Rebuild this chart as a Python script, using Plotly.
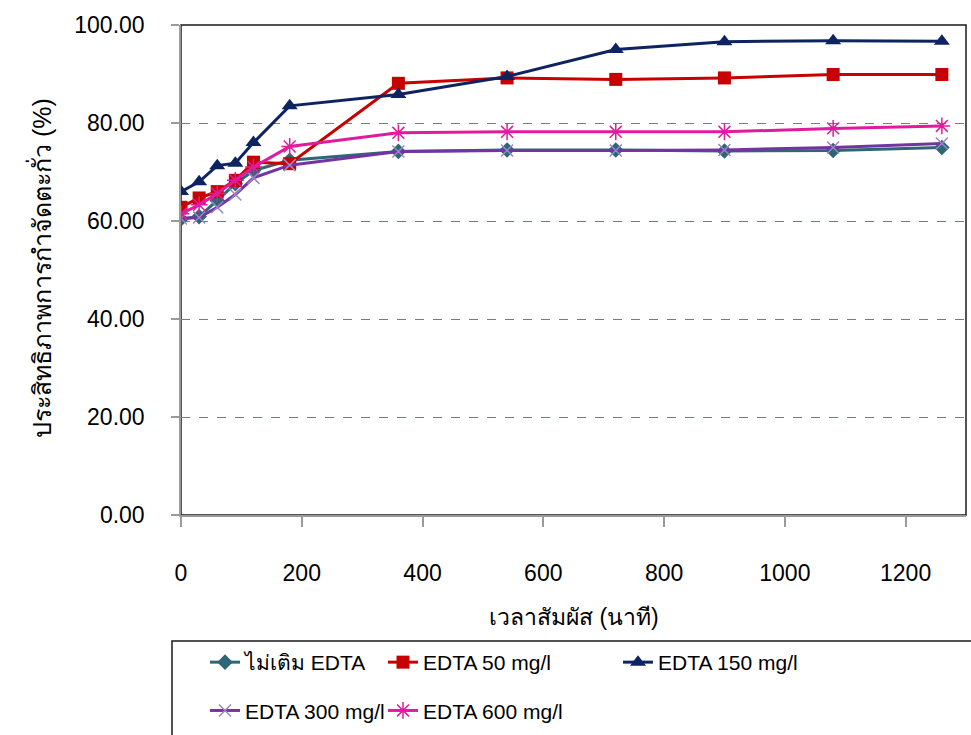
import plotly.graph_objects as go

# Contact time (minutes)
time_min = [0, 30, 60, 90, 120, 180, 360, 540, 720, 900, 1080, 1260]

# Lead removal efficiency (%) per EDTA dose
no_edta = [60.4, 60.9, 64.2, 67.6, 70.3, 72.4, 74.2, 74.5, 74.5, 74.3, 74.4, 75.0]
edta_50 = [62.8, 64.7, 66.0, 68.3, 72.0, 71.7, 88.1, 89.2, 88.9, 89.2, 89.9, 89.9]
edta_150 = [66.0, 68.0, 71.3, 71.8, 76.0, 83.5, 85.8, 89.5, 95.0, 96.6, 96.8, 96.7]
edta_300 = [60.5, 60.7, 62.8, 65.4, 68.8, 71.4, 74.2, 74.4, 74.4, 74.5, 75.0, 75.8]
edta_600 = [61.5, 63.3, 65.6, 68.3, 71.0, 75.2, 78.0, 78.2, 78.2, 78.2, 78.9, 79.4]

series_names = ["ไม่เติม EDTA", "EDTA 50 mg/l", "EDTA 150 mg/l", "EDTA 300 mg/l", "EDTA 600 mg/l"]
x_ticks = [0, 200, 400, 600, 800, 1000, 1200]
y_ticks = [0, 20, 40, 60, 80, 100]

FONT = "Liberation Sans, Arial, sans-serif"

styles = [
    dict(color="#2E6676", symbol="diamond", size=12, lw=0, mline=None, legend="legend"),
    dict(color="#C80000", symbol="square", size=13, lw=0, mline=None, legend="legend2"),
    dict(color="#0E2461", symbol="triangle-up", size=14, lw=0, mline=None, legend="legend3"),
    dict(color="#7334A3", symbol="x-thin", size=12, lw=1.5, mline="#9A86C8", legend="legend"),
    dict(color="#E01C9C", symbol="asterisk", size=14, lw=1.5, mline="#E01C9C", legend="legend2"),
]
values = [no_edta, edta_50, edta_150, edta_300, edta_600]

fig = go.Figure()
for i, (name, ys, st) in enumerate(zip(series_names, values, styles)):
    marker = dict(symbol=st["symbol"], size=st["size"], color=st["color"])
    if st["mline"]:
        marker["line"] = dict(color=st["mline"], width=st["lw"])
    else:
        marker["line"] = dict(width=0)
    fig.add_trace(go.Scatter(
        x=time_min, y=ys, name=name, mode="lines+markers",
        line=dict(color=st["color"], width=3),
        marker=marker, legend=st["legend"], legendgroup=f"g{i}",
    ))

W, H = 971, 735
L, R, T, B = 181, 5, 25, 220
pw, ph = W - L - R, H - T - B


def px_x(p):
    return (p - L) / pw


def px_y(p):
    return (H - B - p) / ph


legend_common = dict(
    orientation="v", font=dict(family=FONT, size=21, color="#000000"),
    bgcolor="rgba(0,0,0,0)", borderwidth=0, traceorder="grouped",
    tracegroupgap=18, itemwidth=30, xanchor="left", yanchor="top",
    itemclick=False, itemdoubleclick=False,
)

fig.update_layout(
    width=W, height=H,
    margin=dict(l=L, r=R, t=T, b=B, autoexpand=False),
    paper_bgcolor="white", plot_bgcolor="white",
    font=dict(family=FONT, color="#000000"),
    showlegend=True,
    legend=dict(legend_common, x=px_x(205), y=px_y(642)),
    legend2=dict(legend_common, x=px_x(383), y=px_y(642)),
    legend3=dict(legend_common, x=px_x(618), y=px_y(642)),
    xaxis=dict(
        range=[0, 1300], tickvals=x_ticks, ticktext=[str(v) for v in x_ticks],
        showgrid=False, zeroline=False, showline=True, linecolor="#9A9A9A", linewidth=1.5,
        ticks="outside", ticklen=10, tickcolor="#9A9A9A", tickwidth=1.5,
        tickfont=dict(family=FONT, size=23, color="#000000"), ticklabelstandoff=27,
    ),
    yaxis=dict(
        range=[0, 100], tickvals=y_ticks, ticktext=[f"{v:.2f}" for v in y_ticks],
        showgrid=True, gridcolor="#6E7E86", gridwidth=1, griddash="dash",
        zeroline=False, showline=True, linecolor="#9A9A9A", linewidth=1.5,
        ticks="outside", ticklen=8, tickcolor="#9A9A9A", tickwidth=1.5,
        tickfont=dict(family=FONT, size=23, color="#000000"), ticklabelstandoff=22,
    ),
    shapes=[
        # plot-area frame (top and right edges show in black)
        dict(type="rect", xref="paper", yref="paper", x0=0, x1=1, y0=0, y1=1,
             line=dict(color="#1A1A1A", width=1.5), layer="below"),
        # legend frame
        dict(type="rect", xref="paper", yref="paper",
             x0=px_x(172), x1=px_x(990), y0=px_y(760), y1=px_y(641),
             line=dict(color="#1A1A1A", width=1.5), fillcolor="rgba(0,0,0,0)", layer="above"),
    ],
    annotations=[
        dict(text="เวลาสัมผัส (นาที)", xref="paper", yref="paper", x=0.5, y=px_y(617),
             xanchor="center", yanchor="middle", showarrow=False,
             font=dict(family=FONT, size=23, color="#000000")),
        dict(text="ประสิทธิภาพการกำจัดตะกั่ว (%)", xref="paper", yref="paper",
             x=0, xshift=40 - L, y=px_y(268), xanchor="center", yanchor="middle",
             textangle=-90, showarrow=False,
             font=dict(family=FONT, size=25, color="#000000")),
    ],
)

fig.write_html("out.html")
